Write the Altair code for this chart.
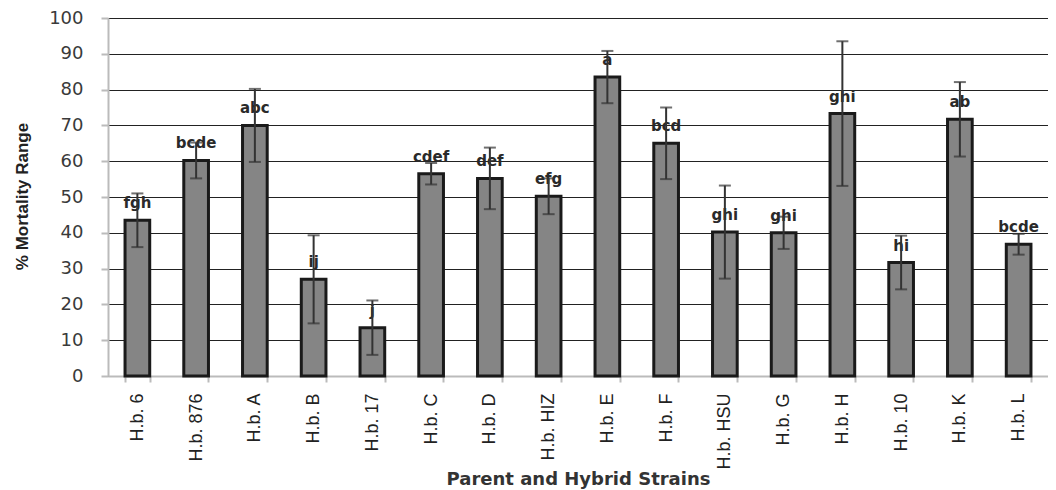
import altair as alt
import pandas as pd

strains = ["H.b. 6", "H.b. 876", "H.b. A", "H.b. B", "H.b. 17", "H.b. C", "H.b. D", "H.b. HIZ",
           "H.b. E", "H.b. F", "H.b. HSU", "H.b. G", "H.b. H", "H.b. 10", "H.b. K", "H.b. L"]
mortality = [43.5, 60.2, 70.0, 27.0, 13.5, 56.5, 55.2, 50.2, 83.5, 65.0, 40.2, 40.0, 73.3, 31.7, 71.7, 36.8]
errors = [7.5, 5.0, 10.2, 12.3, 7.6, 3.0, 8.6, 5.0, 7.3, 10.0, 13.0, 4.5, 20.2, 7.5, 10.4, 2.9]
letters = ["fgh", "bcde", "abc", "ij", "j", "cdef", "def", "efg", "a", "bcd", "ghi", "ghi", "ghi", "hi", "ab", "bcde"]
y_ticks = [0, 10, 20, 30, 40, 50, 60, 70, 80, 90, 100]

df = pd.DataFrame({"strain": strains, "mortality": mortality, "err": errors, "letter": letters})
df["lo"] = df["mortality"] - df["err"]
df["hi"] = df["mortality"] + df["err"]

FONT = "Liberation Sans"
WIDE = "DejaVu Sans"

x_axis = alt.Axis(title="Parent and  Hybrid Strains", labelAngle=270,
                  labelFont=FONT, labelFontSize=18, labelColor="#222",
                  labelPadding=11, tickBand="extent", tickSize=6,
                  tickColor="#bbbbbb", tickWidth=2, domainColor="#bbbbbb",
                  domainWidth=2, grid=False, labelOverlap=False,
                  titleFont=WIDE, titleFontSize=18, titleFontWeight="bold",
                  titleColor="#333", titleY=103, titleBaseline="middle")
x_scale = alt.Scale(paddingInner=0.58, paddingOuter=0.29)

y_axis = alt.Axis(title="% Mortality Range", values=y_ticks, labelOverlap=False,
                  labelFont=WIDE, labelFontSize=18, labelColor="#3a3a3a",
                  labelPadding=18, tickSize=7, tickColor="#bbbbbb", tickWidth=2,
                  domainColor="#bbbbbb", domainWidth=2,
                  gridColor="#222222", gridWidth=1,
                  titleFont=FONT, titleFontSize=17, titleFontWeight="bold",
                  titleColor="#222", titleAngle=270, titleX=-86, titleY=178,
                  titleAlign="center", titleBaseline="middle")
y_scale = alt.Scale(domain=[0, 100], nice=False)


def X():
    return alt.X("strain:N", sort=strains, scale=x_scale, axis=x_axis)


def Y(field):
    return alt.Y(field, scale=y_scale, axis=y_axis)


base = alt.Chart(df)

bars = base.mark_bar(fill="#858585", stroke="#1a1a1a", strokeWidth=3).encode(
    x=X(), y=Y("mortality:Q"),
)

text = base.mark_text(font=WIDE, fontSize=15, fontWeight="bold", color="#2a2a2a",
                      baseline="middle", dy=-17).encode(
    x=X(), y=Y("mortality:Q"), text="letter:N",
)

rules = base.mark_rule(color="#333333", strokeWidth=2).encode(
    x=X(), y=Y("lo:Q"), y2="hi:Q",
)

cap_hi = base.mark_tick(color="#333333", thickness=2, size=12).encode(
    x=X(), y=Y("hi:Q"),
)
cap_lo = base.mark_tick(color="#333333", thickness=2, size=12).encode(
    x=X(), y=Y("lo:Q"),
)

chart = alt.layer(bars, text, rules, cap_hi, cap_lo).properties(
    width=940, height=358,
    padding={"left": 100, "top": 10, "right": 0, "bottom": 114},
    autosize=alt.AutoSizeParams(type="none"),
    background="white",
).configure_view(stroke=None)

chart.save("out.html", embed_options={"renderer": "svg", "actions": False})
